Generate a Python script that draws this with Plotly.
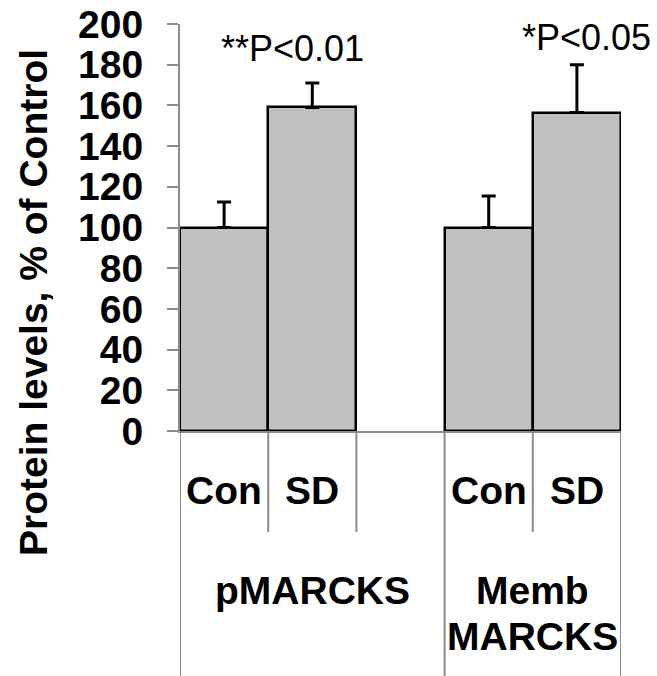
import plotly.graph_objects as go

groups = ["pMARCKS", "Memb<br>MARCKS"]
conditions = ["Con", "SD"]
values = [[100, 159], [100, 156.5]]
errors = [[12.5, 12], [15.5, 23.5]]
pvals = ["**P<0.01", "*P<0.05"]
y_title = "Protein levels, % of Control"
y_ticks = list(range(0, 201, 20))

# slot layout: each group has its conditions plus (except the last) one empty slot
slots_per_group = [len(conditions) + 1, len(conditions)]
group_start = [0, slots_per_group[0]]

xs, ys, es, labels = [], [], [], []
for g in range(len(groups)):
    for c in range(len(conditions)):
        xs.append(group_start[g] + c)
        ys.append(values[g][c])
        es.append(errors[g][c])
        labels.append(conditions[c])

n_slots = sum(slots_per_group)
W, H = 657, 676
ml, mr, mt, mb = 180, 36, 24, 245
plot_h = H - mt - mb
AX = "#8c8c8c"
FONT = "Liberation Sans, Arial, sans-serif"

fig = go.Figure()
fig.add_trace(go.Bar(
    x=xs, y=ys, width=1,
    marker=dict(color="#c0c0c0", line=dict(color="black", width=2.5)),
    error_y=dict(type="data", array=es, arrayminus=[0] * len(es), symmetric=False,
                 color="black", thickness=3, width=7),
    showlegend=False,
))

def py(pix):
    # pixel row -> paper y
    return (H - mb - pix) / plot_h

shapes = []
# separators below the axis
bottom = py(H)
short = py(532)
for g in range(len(groups)):
    s = group_start[g]
    shapes.append(dict(type="line", xref="x", yref="paper", x0=s - 0.5, x1=s - 0.5,
                       y0=0, y1=bottom, line=dict(color=AX, width=2)))
    for k in range(1, slots_per_group[g]):
        shapes.append(dict(type="line", xref="x", yref="paper", x0=s + k - 0.5, x1=s + k - 0.5,
                           y0=0, y1=short, line=dict(color=AX, width=2)))
shapes.append(dict(type="line", xref="x", yref="paper", x0=n_slots - 0.5, x1=n_slots - 0.5,
                   y0=0, y1=bottom, line=dict(color=AX, width=2)))

annotations = []
for x, lab in zip(xs, labels):
    annotations.append(dict(x=x, y=py(490), xref="x", yref="paper", text=lab, showarrow=False,
                            xanchor="center", yanchor="middle",
                            font=dict(family=FONT, size=39, color="black", weight="bold")))
for g in range(len(groups)):
    center = group_start[g] + (slots_per_group[g] - 1) / 2
    for i, line in enumerate(groups[g].split("<br>")):
        annotations.append(dict(x=center, y=py(590 + 46 * i), xref="x", yref="paper", text=line,
                                showarrow=False, xanchor="center", yanchor="middle",
                                font=dict(family=FONT, size=39, color="black", weight="bold")))
# p-value labels
shifts = [-20, 10]
p_rows = [48, 38]
for g in range(len(groups)):
    x = group_start[g] + 1
    annotations.append(dict(x=x, y=py(p_rows[g]), xref="x", yref="paper", text=pvals[g], showarrow=False,
                            xshift=shifts[g], xanchor="center", yanchor="middle",
                            font=dict(family=FONT, size=36, color="black")))

annotations.append(dict(x=(33 - ml) / (W - ml - mr), y=py(303), xref="paper", yref="paper",
                        text=y_title, textangle=-90, showarrow=False,
                        xanchor="center", yanchor="middle",
                        font=dict(family=FONT, size=39, color="black", weight="bold")))

fig.update_layout(
    width=W, height=H,
    margin=dict(l=ml, r=mr, t=mt, b=mb, autoexpand=False),
    plot_bgcolor="white", paper_bgcolor="white",
    shapes=shapes, annotations=annotations,
    bargap=0,
)
fig.update_xaxes(range=[-0.5, n_slots - 0.5], showticklabels=False, ticks="",
                 showline=True, linecolor=AX, linewidth=2, showgrid=False, zeroline=False,
                 automargin=False)
fig.update_yaxes(range=[0, 200], tickvals=y_ticks, ticks="outside", ticklen=11, tickwidth=2,
                 tickcolor=AX, showline=True, linecolor=AX, linewidth=2, showgrid=False, zeroline=False,
                 tickfont=dict(family=FONT, size=39, color="black", weight="bold"),
                 ticklabelstandoff=16, automargin=False)

fig.write_html("out.html")
